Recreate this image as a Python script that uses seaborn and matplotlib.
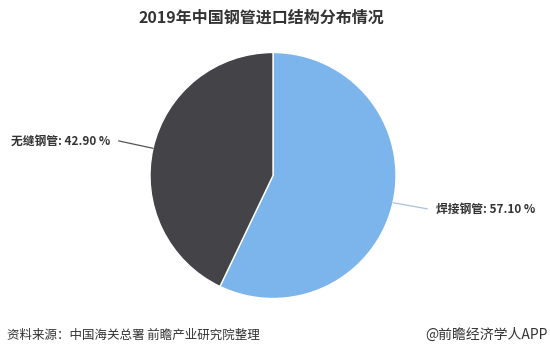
import matplotlib
matplotlib.use("Agg")
import matplotlib.pyplot as plt
import seaborn as sns
import numpy as np

categories = ["焊接钢管", "无缝钢管"]
shares = [57.10, 42.90]
colors = ["#7cb5ec", "#434348"]
title = "2019年中国钢管进口结构分布情况"
source = "资料来源：中国海关总署 前瞻产业研究院整理"
credit = "@前瞻经济学人APP"

sns.set_style("white")
plt.rcParams["font.family"] = ["Noto Sans CJK SC", "DejaVu Sans"]

W, H = 550, 357
fig = plt.figure(figsize=(W / 100, H / 100), dpi=100)
cx, cy, r = 273, 175.5, 123
ax = fig.add_axes([(cx - r) / W, (H - cy - r) / H, 2 * r / W, 2 * r / H])
wedges, _ = ax.pie(shares, colors=colors, startangle=90, counterclock=False,
                   radius=1, wedgeprops=dict(edgecolor="white", linewidth=1))
ax.set_xlim(-1, 1)
ax.set_ylim(-1, 1)
ax.set_aspect("equal")
ax.axis("off")

line_colors = ["#a9c3dc", "#555555"]
for w, cat, val, lc in zip(wedges, categories, shares, line_colors):
    ang = np.deg2rad((w.theta1 + w.theta2) / 2)
    x, y = np.cos(ang), np.sin(ang)
    sgn = 1 if x > 0 else -1
    p0 = (x * 1.0, y * 1.0)
    p1 = (x * 1.0 + sgn * 0.28, y * 1.0 + (0.06 if y > 0 else -0.05))
    ax.plot([p0[0], p1[0]], [p0[1], p1[1]], color=lc, lw=0.9, clip_on=False)
    ax.text(p1[0] + sgn * 0.07, p1[1], f"{cat}: {val:.2f} %",
            ha="left" if sgn > 0 else "right", va="center",
            fontsize=8.5, fontweight="bold", color="#333333")

fig.text(261 / W, 1 - 18 / H, title, ha="center", va="center",
         fontsize=11.5, fontweight="bold", color="#333333")
fig.text(7 / W, 1 - 335 / H, source, ha="left", va="center",
         fontsize=9, color="#333333")
fig.text(1 - 2 / W, 1 - 335 / H, credit, ha="right", va="center",
         fontsize=10, color="#333333")

fig.savefig("out.png", dpi=100)
